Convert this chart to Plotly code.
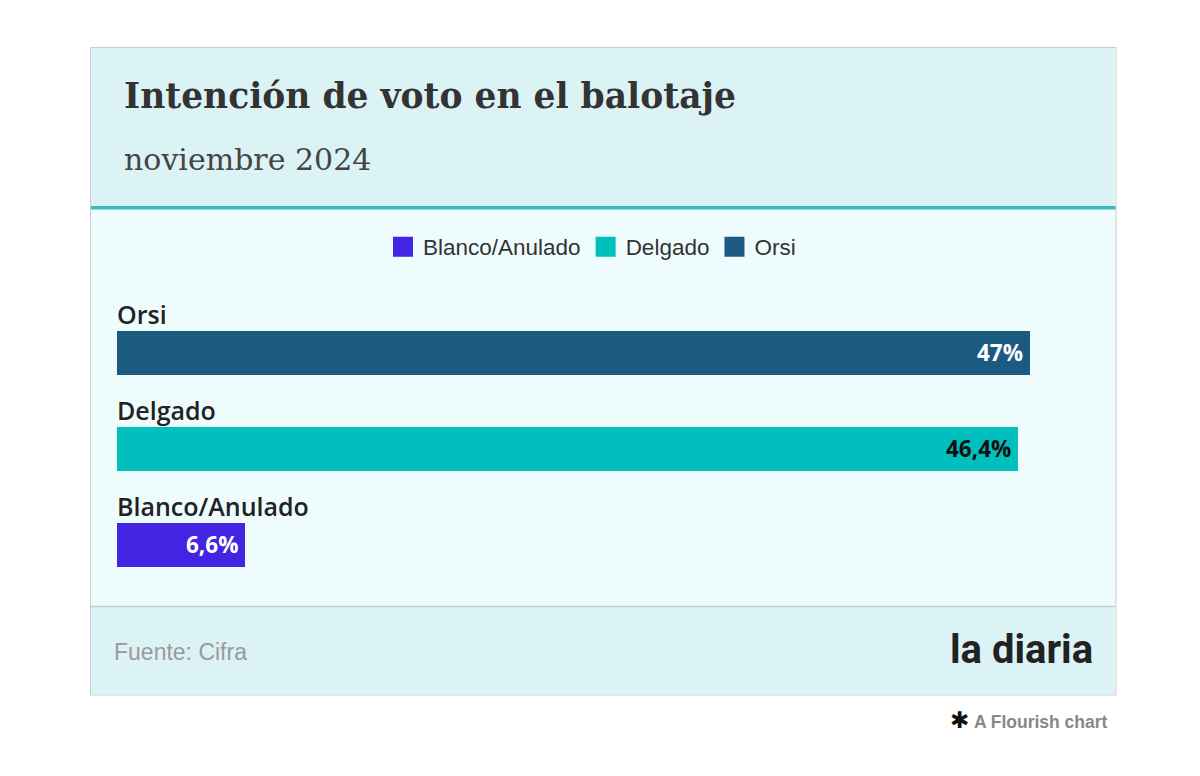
import plotly.graph_objects as go

# ---- data ----
categories = ["Orsi", "Delgado", "Blanco/Anulado"]
values = [47, 46.4, 6.6]
value_labels = ["47%", "46,4%", "6,6%"]
legend_order = ["Blanco/Anulado", "Delgado", "Orsi"]

title = "Intención de voto en el balotaje"
subtitle = "noviembre 2024"
source = "Fuente: Cifra"

# ---- styles ----
bar_colors = {"Orsi": "#1b5b82", "Delgado": "#00bfbd", "Blanco/Anulado": "#4324e2"}
label_colors = {"Orsi": "#ffffff", "Delgado": "#111111", "Blanco/Anulado": "#ffffff"}
HEADER_BG = "#dcf3f5"
BODY_BG = "#effcfd"
TEAL = "#3cb9be"
BORDER = "#cccccc"

OFF = 8  # page body margin
W, H = 1200, 776
PW, PH = 913, 290
ML = 117 - OFF
MT = 300 - OFF
MR = W - ML - PW
MB = H - MT - PH


def px(x):
    return (x - OFF - ML) / PW


def py(y):
    return (MT + PH - (y - OFF)) / PH


fig = go.Figure()

fig.add_trace(go.Bar(
    x=values, y=categories, orientation="h",
    marker=dict(color=[bar_colors[c] for c in categories], line=dict(width=0)),
    width=44 / 96, showlegend=False, hoverinfo="skip",
))

for name in legend_order:
    fig.add_trace(go.Scatter(
        x=[None], y=[None], mode="markers", name=name,
        marker=dict(symbol="square", size=16, color=bar_colors[name],
                    line=dict(width=4, color=bar_colors[name])),
    ))

shapes = [
    dict(type="rect", xref="paper", yref="paper", x0=px(90.5), x1=px(1116), y0=py(47.5), y1=py(695),
         fillcolor=BODY_BG, line=dict(color=BORDER, width=1), layer="below"),
    dict(type="rect", xref="paper", yref="paper", x0=px(91), x1=px(1115.5), y0=py(48), y1=py(206),
         fillcolor=HEADER_BG, line=dict(width=0), layer="below"),
    dict(type="rect", xref="paper", yref="paper", x0=px(91), x1=px(1115.5), y0=py(206), y1=py(209.5),
         fillcolor=TEAL, line=dict(width=0), layer="below"),
    dict(type="rect", xref="paper", yref="paper", x0=px(91), x1=px(1115.5), y0=py(607), y1=py(694.5),
         fillcolor=HEADER_BG, line=dict(width=0), layer="below"),
    dict(type="line", xref="paper", yref="paper", x0=px(91), x1=px(1115.5), y0=py(606.5), y1=py(606.5),
         line=dict(color=BORDER, width=1.5), layer="below"),
]

annotations = [
    dict(text=f"<b>{title}</b>", xref="paper", yref="paper", x=px(122), y=py(96),
         xanchor="left", yanchor="middle", showarrow=False,
         font=dict(family="DejaVu Serif", size=34.5, color="#333333")),
    dict(text=subtitle, xref="paper", yref="paper", x=px(122), y=py(159),
         xanchor="left", yanchor="middle", showarrow=False,
         font=dict(family="DejaVu Serif", size=30, color="#444444")),
    dict(text=source, xref="paper", yref="paper", x=px(112), y=py(652),
         xanchor="left", yanchor="middle", showarrow=False,
         font=dict(family="Liberation Sans", size=23, color="#9a9a9a")),
    dict(text="<b>la diaria</b>", xref="paper", yref="paper", x=px(1095), y=py(649),
         xanchor="right", yanchor="middle", showarrow=False,
         font=dict(family="Roboto", size=40, color="#222222")),
    dict(text="<span style='color:#111;font-size:23px'>✱</span> <b>A Flourish chart</b>", xref="paper", yref="paper",
         x=px(1110), y=py(720), xanchor="right", yanchor="middle", showarrow=False,
         font=dict(family="Liberation Sans", size=17.5, color="#888888")),
]

for c, v, lab in zip(categories, values, value_labels):
    annotations.append(dict(text=c, x=0, y=c, xref="x", yref="y", xanchor="left", yanchor="middle",
                            yshift=39, xshift=-2, showarrow=False,
                            font=dict(family="Open Sans", size=25, color="#222222", weight=600)))
    annotations.append(dict(text=f"<b>{lab}</b>", x=v, y=c, xref="x", yref="y", xanchor="right",
                            yanchor="middle", xshift=-5, showarrow=False,
                            font=dict(family="Open Sans", size=22.5, color=label_colors[c])))

fig.update_layout(
    width=W, height=H,
    margin=dict(l=ML, r=MR, t=MT, b=MB, pad=0),
    paper_bgcolor="#ffffff", plot_bgcolor="rgba(0,0,0,0)",
    shapes=shapes, annotations=annotations,
    bargap=0,
    xaxis=dict(range=[0, 47], visible=False, fixedrange=True),
    yaxis=dict(type="category", categoryarray=["Blanco/Anulado", "Delgado", "Orsi"],
               range=[-0.469, 2.552], visible=False, fixedrange=True),
    legend=dict(orientation="h", x=px(592), xanchor="center", y=py(247), yanchor="middle",
                font=dict(family="Liberation Sans", size=22.5, color="#333333"),
                bgcolor="rgba(0,0,0,0)", itemclick=False, itemdoubleclick=False),
    hovermode=False,
)

fig.write_html("out.html")
